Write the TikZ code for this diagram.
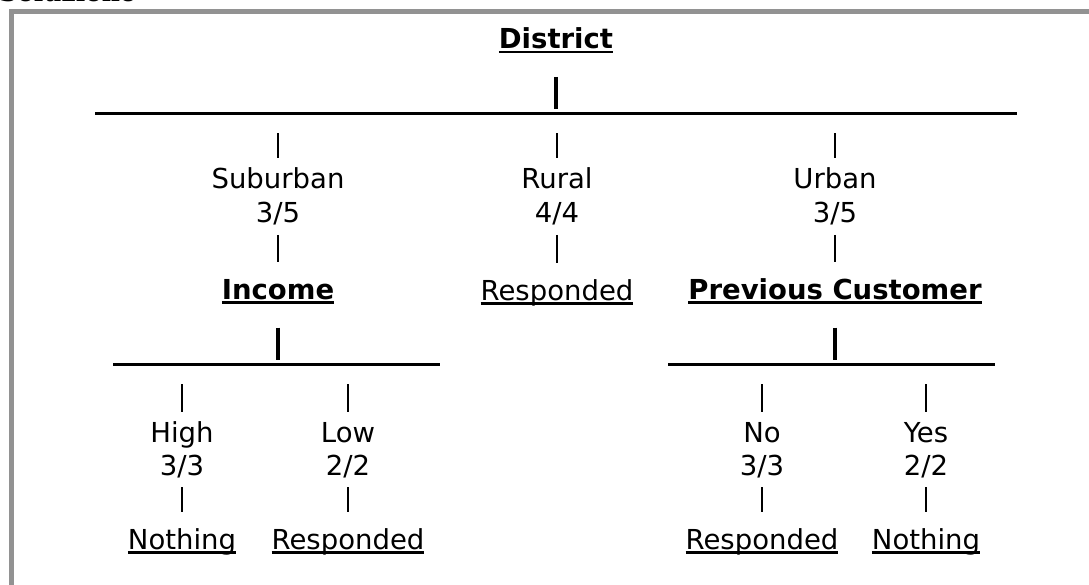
\documentclass[tikz,border=0pt]{standalone}
\usepackage{fontspec}
\setmainfont{DejaVu Sans}
\newfontfamily\titlefont{DejaVu Serif}
\definecolor{framegray}{HTML}{929292}
\newcommand\treefont{\fontsize{27.5}{34}\selectfont}
\newlength\ulwd
\newcommand\ulined[1]{\settowidth\ulwd{#1}\rlap{\rule[-0.17em]{\ulwd}{0.08em}}#1}
\tikzset{%
  attr/.style = {font=\treefont\bfseries, inner sep=0pt, anchor=base},
  val/.style = {font=\treefont, inner sep=0pt, anchor=base},
  bar/.style = {line width=2.7pt, shorten <=20pt, shorten >=30.5pt},
  fracbar/.style = {line width=2.7pt, shorten <=12pt, shorten >=37pt},
  boldbar/.style = {line width=4pt, shorten <=28.5pt, shorten >=4.5pt},
  rule/.style = {line width=3pt},
  frame/.style = {draw=framegray, line width=4.5pt}
}

\begin{document}
\begin{tikzpicture}[x=1pt,y=-1pt]
\clip (0,0) rectangle (1089,585);
\useasboundingbox (0,0) rectangle (1089,585);
\draw[frame] (11.5,11.5) rectangle (1120,620);
\node[anchor=base west, inner sep=0pt, font=\titlefont\fontsize{25}{30}\selectfont\bfseries] (title) at (-1,2) {Soluzione};

% root
\node[attr] (district) at (556,48.5) {\ulined{District}};
\coordinate (rootl) at (95,113.5);
\coordinate (rootr) at (1017,113.5);
\draw[rule] (rootl) -- (rootr);
\draw[boldbar] (district.base) -- (district.base |- rootl);

% suburban branch
\node[val] (suburban) at (278,189) {Suburban};
\node[val] (subcnt) at (278,223) {3/5};
\node[attr] (income) at (278,299) {\ulined{Income}};
\draw[bar] (suburban.base |- rootl) -- (suburban.base);
\draw[fracbar] (subcnt.base) -- (income.base);

% rural branch
\node[val] (rural) at (557,189) {Rural};
\node[val] (ruralcnt) at (557,223) {4/4};
\node[val] (ruralleaf) at (557,300) {\ulined{Responded}};
\draw[bar] (rural.base |- rootl) -- (rural.base);
\draw[fracbar] (ruralcnt.base) -- (ruralleaf.base);

% urban branch
\node[val] (urban) at (835,189) {Urban};
\node[val] (urbancnt) at (835,223) {3/5};
\node[attr] (prevcust) at (835,299) {\ulined{Previous Customer}};
\draw[bar] (urban.base |- rootl) -- (urban.base);
\draw[fracbar] (urbancnt.base) -- (prevcust.base);

% income split
\coordinate (incl) at (113,364);
\coordinate (incr) at (440,364);
\draw[rule] (incl) -- (incr);
\draw[boldbar] (income.base) -- (income.base |- incl);

\node[val] (high) at (182,442) {High};
\node[val] (highcnt) at (182,475) {3/3};
\node[val] (highleaf) at (182,549) {\ulined{Nothing}};
\draw[bar] (high.base |- incl) -- (high.base);
\draw[fracbar] (highcnt.base) -- (highleaf.base);

\node[val] (low) at (348,442) {Low};
\node[val] (lowcnt) at (348,475) {2/2};
\node[val] (lowleaf) at (348,549) {\ulined{Responded}};
\draw[bar] (low.base |- incl) -- (low.base);
\draw[fracbar] (lowcnt.base) -- (lowleaf.base);

% previous customer split
\coordinate (prevl) at (668,364);
\coordinate (prevr) at (995,364);
\draw[rule] (prevl) -- (prevr);
\draw[boldbar] (prevcust.base) -- (prevcust.base |- prevl);

\node[val] (no) at (762,442) {No};
\node[val] (nocnt) at (762,475) {3/3};
\node[val] (noleaf) at (762,549) {\ulined{Responded}};
\draw[bar] (no.base |- prevl) -- (no.base);
\draw[fracbar] (nocnt.base) -- (noleaf.base);

\node[val] (yes) at (926,442) {Yes};
\node[val] (yescnt) at (926,475) {2/2};
\node[val] (yesleaf) at (926,549) {\ulined{Nothing}};
\draw[bar] (yes.base |- prevl) -- (yes.base);
\draw[fracbar] (yescnt.base) -- (yesleaf.base);
\end{tikzpicture}
\end{document}
